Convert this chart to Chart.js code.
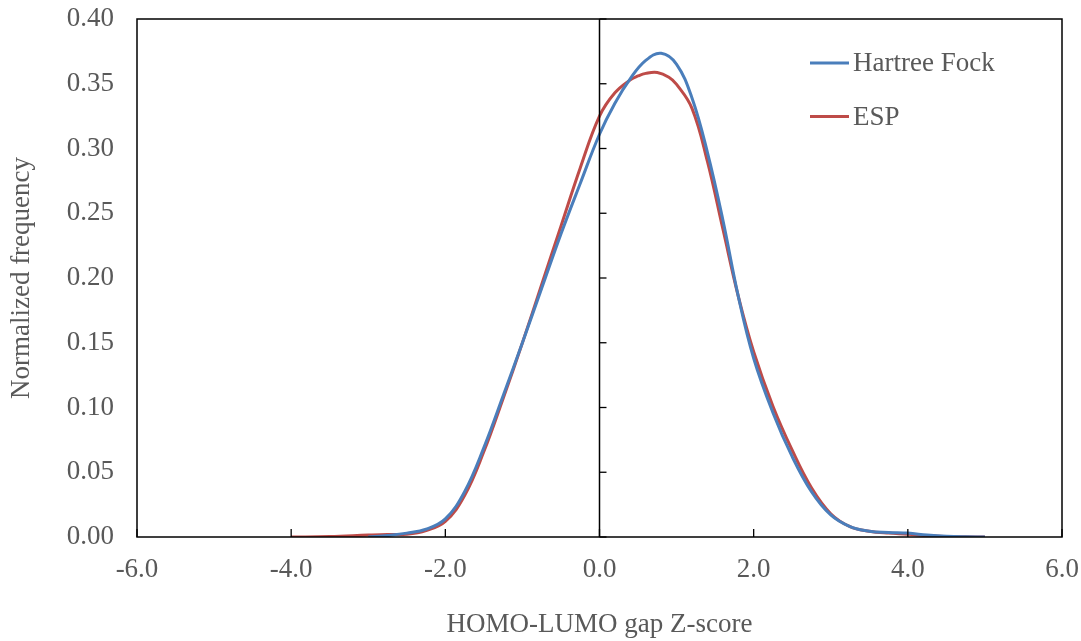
<!DOCTYPE html>
<html>
<head>
<meta charset="utf-8">
<script src="https://cdn.jsdelivr.net/npm/chart.js@4/dist/chart.umd.min.js"></script>
<style>
  html, body { margin: 0; padding: 0; background: #ffffff; }
  #wrap { width: 1081px; height: 641px; position: relative; }
</style>
</head>
<body>
<div id="wrap"><canvas id="c"></canvas></div>
<script>
// ---- Data ----
const seriesNames = ["Hartree Fock", "ESP"];
const hfX = [-3.0, -2.75, -2.5, -2.25, -2.0, -1.75, -1.5, -1.25, -1.0, -0.75, -0.5, -0.25, 0.0, 0.2, 0.4, 0.6, 0.8, 1.0, 1.2, 1.4, 1.6, 1.8, 2.0, 2.25, 2.5, 2.75, 3.0, 3.25, 3.5, 3.75, 4.0, 4.25, 4.5, 4.75, 5.0];
const hfY = [0.0, 0.0012, 0.003, 0.006, 0.014, 0.035, 0.069, 0.109, 0.150, 0.192, 0.234, 0.273, 0.311, 0.335, 0.354, 0.368, 0.3735, 0.365, 0.339, 0.297, 0.245, 0.186, 0.138, 0.096, 0.062, 0.035, 0.017, 0.008, 0.0045, 0.0035, 0.003, 0.0015, 0.0005, 0.0001, 0.0];
const espX = [-4.0, -3.5, -3.0, -2.75, -2.5, -2.25, -2.0, -1.75, -1.5, -1.25, -1.0, -0.75, -0.5, -0.25, 0.0, 0.2, 0.4, 0.5, 0.6, 0.75, 0.9, 1.0, 1.2, 1.4, 1.6, 1.8, 2.0, 2.25, 2.5, 2.75, 3.0, 3.25, 3.5, 3.75, 4.0, 4.25, 4.5, 4.75, 5.0];
const espY = [0.0, 0.0003, 0.0015, 0.002, 0.0022, 0.005, 0.012, 0.032, 0.066, 0.107, 0.150, 0.195, 0.240, 0.285, 0.325, 0.343, 0.353, 0.356, 0.358, 0.3587, 0.355, 0.3495, 0.331, 0.290, 0.238, 0.186, 0.143, 0.101, 0.067, 0.038, 0.018, 0.008, 0.0045, 0.003, 0.0022, 0.001, 0.0004, 0.0001, 0.0];
const xTickValues = [-6, -4, -2, 0, 2, 4, 6];
const yTickValues = [0, 0.05, 0.10, 0.15, 0.20, 0.25, 0.30, 0.35, 0.40];
const xTitle = "HOMO-LUMO gap Z-score";
const yTitle = "Normalized frequency";

// ---- Styles ----
const colors = ["#4A7EBB", "#BE4B48"];
const textColor = "#595959";
const fontFamily = "'Liberation Serif', 'Times New Roman', serif";
const fontSize = 27;

const toPts = (xs, ys) => xs.map((x, i) => ({ x: x, y: ys[i] }));

const framePlugin = {
  id: 'frameAxes',
  afterDatasetsDraw(chart) {
    const { ctx, chartArea: a, scales: { x, y } } = chart;
    ctx.save();
    ctx.strokeStyle = '#000000';
    ctx.lineWidth = 1.5;
    ctx.strokeRect(a.left, a.top, a.right - a.left, a.bottom - a.top);
    // y axis at x = 0
    const x0 = x.getPixelForValue(0);
    ctx.beginPath();
    ctx.moveTo(x0, a.top);
    ctx.lineTo(x0, a.bottom);
    ctx.stroke();
    ctx.lineWidth = 1.3;
    yTickValues.forEach(v => {
      const py = y.getPixelForValue(v);
      ctx.beginPath();
      ctx.moveTo(x0, py);
      ctx.lineTo(x0 + 7, py);
      ctx.stroke();
    });
    const y0 = y.getPixelForValue(0);
    xTickValues.forEach(v => {
      const px = x.getPixelForValue(v);
      ctx.beginPath();
      ctx.moveTo(px, y0);
      ctx.lineTo(px, y0 - 8);
      ctx.stroke();
    });
    // legend
    ctx.font = fontSize + "px " + fontFamily;
    ctx.textBaseline = 'middle';
    ctx.textAlign = 'left';
    chart.data.datasets.forEach((ds, i) => {
      const ly = a.top + 44 + i * 53.5;
      const lx = a.right - 252;
      ctx.strokeStyle = ds.borderColor;
      ctx.lineWidth = 3;
      ctx.beginPath();
      ctx.moveTo(lx, ly);
      ctx.lineTo(lx + 39, ly);
      ctx.stroke();
      ctx.fillStyle = textColor;
      ctx.fillText(ds.label, lx + 43, ly + 1);
    });
    ctx.restore();
  }
};

new Chart(document.getElementById('c'), {
  type: 'scatter',
  data: {
    datasets: [
      { label: seriesNames[0], data: toPts(hfX, hfY), showLine: true, borderColor: colors[0], backgroundColor: colors[0],
        borderWidth: 3, pointRadius: 0, tension: 0.4, fill: false },
      { label: seriesNames[1], data: toPts(espX, espY), showLine: true, borderColor: colors[1], backgroundColor: colors[1],
        borderWidth: 3, pointRadius: 0, tension: 0.4, fill: false }
    ]
  },
  options: {
    responsive: true,
    maintainAspectRatio: false,
    animation: false,
    layout: { padding: { top: 19, right: 19, left: 0, bottom: 0 } },
    plugins: { legend: { display: false }, tooltip: { enabled: false } },
    scales: {
      x: {
        type: 'linear', min: -6, max: 6,
        grid: { display: false, drawTicks: false }, border: { display: false },
        afterBuildTicks: s => { s.ticks = xTickValues.map(v => ({ value: v })); },
        afterFit: s => { s.height = 104; s.paddingLeft = 0; s.paddingRight = 0; },
        ticks: { color: textColor, font: { family: fontFamily, size: fontSize }, padding: 17, maxRotation: 0,
                 callback: v => Number(v).toFixed(1) },
        title: { display: true, text: xTitle, color: textColor, font: { family: fontFamily, size: fontSize }, padding: { top: 0, bottom: 0 } }
      },
      y: {
        type: 'linear', min: 0, max: 0.4,
        grid: { display: false, drawTicks: false }, border: { display: false },
        afterBuildTicks: s => { s.ticks = yTickValues.map(v => ({ value: v })); },
        afterFit: s => { s.width = 137; s.paddingTop = 0; s.paddingBottom = 0; },
        ticks: { color: textColor, font: { family: fontFamily, size: fontSize }, padding: 23,
                 callback: v => Number(v).toFixed(2) },
        title: { display: true, text: yTitle, color: textColor, font: { family: fontFamily, size: fontSize }, padding: { top: 6, bottom: 0 } }
      }
    }
  },
  plugins: [framePlugin]
});
</script>
</body>
</html>
